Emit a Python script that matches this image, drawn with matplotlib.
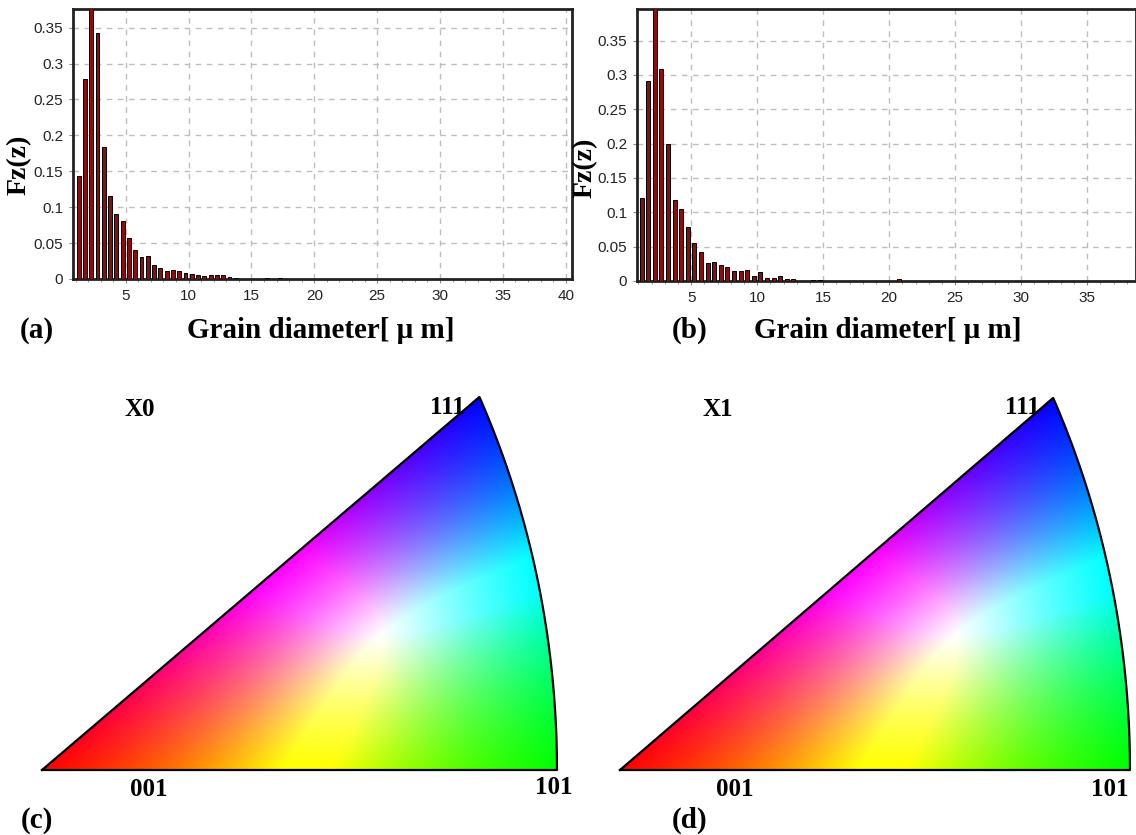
import numpy as np
import matplotlib
matplotlib.use('Agg')
import matplotlib.pyplot as plt
from matplotlib.ticker import MultipleLocator, FormatStrFormatter

W, H = 1136, 835

# grain size distributions, 0.5 um bins (bin centres in um)
x0_centres = [1.25, 1.75, 2.25, 2.75, 3.25, 3.75, 4.25, 4.75, 5.25, 5.75,
              6.25, 6.75, 7.25, 7.75, 8.25, 8.75, 9.25, 9.75, 10.25, 10.75,
              11.25, 11.75, 12.25, 12.75, 13.25, 13.75, 16.25, 17.25]
x0_freq = [0.143, 0.279, 0.390, 0.343, 0.184, 0.115, 0.091, 0.081, 0.057, 0.040,
           0.030, 0.032, 0.019, 0.015, 0.011, 0.013, 0.011, 0.009, 0.0075, 0.006,
           0.004, 0.005, 0.0055, 0.0055, 0.003, 0.0015, 0.002, 0.002]

x1_centres = [1.25, 1.75, 2.25, 2.75, 3.25, 3.75, 4.25, 4.75, 5.25, 5.75,
              6.25, 6.75, 7.25, 7.75, 8.25, 8.75, 9.25, 9.75, 10.25, 10.75,
              11.25, 11.75, 12.25, 12.75, 14.25, 14.75, 20.75]
x1_freq = [0.121, 0.291, 0.410, 0.309, 0.200, 0.118, 0.105, 0.078, 0.055, 0.042,
           0.026, 0.028, 0.024, 0.020, 0.014, 0.014, 0.016, 0.007, 0.013, 0.005,
           0.005, 0.007, 0.003, 0.003, 0.002, 0.002, 0.003]

SERIF = 'Liberation Serif'
SANS = 'Liberation Sans'


def px(x, y):
    return x / W, 1 - y / H


def hist_panel(fig, rect, centres, freq, xlim, ylim, xmax_tick):
    ax = fig.add_axes(rect)
    ax.bar(centres, freq, width=0.3, color='#8b0d0d', edgecolor='black',
           linewidth=0.7, zorder=3)
    ax.set_xlim(*xlim)
    ax.set_ylim(*ylim)
    ax.set_xticks(np.arange(5, xmax_tick + 1, 5))
    ax.xaxis.set_minor_locator(MultipleLocator(1))
    ax.yaxis.set_major_locator(MultipleLocator(0.05))
    ax.yaxis.set_major_formatter(FormatStrFormatter('%g'))
    ax.grid(True, color='#bdbdbd', linestyle=(0, (4, 4)), linewidth=1.0, zorder=0)
    ax.tick_params(axis='both', direction='out', length=3, width=0.8,
                   color='#888888', labelsize=11, labelcolor='#222222', pad=4)
    ax.tick_params(axis='x', which='minor', length=2, color='#888888')
    for lab in ax.get_xticklabels() + ax.get_yticklabels():
        lab.set_fontfamily(SANS)
    for sp in ax.spines.values():
        sp.set_linewidth(2.0)
        sp.set_color('#222222')
    return ax


# equal-area projection of the cubic standard triangle
X101 = np.sqrt(0.5) * np.sqrt(2 / (1 + np.sqrt(0.5)))
Y111 = np.sqrt(1 / 3) * np.sqrt(2 / (1 + np.sqrt(1 / 3)))
GREEN_W, BLUE_W = 1.4, 1.6
P_NORM = 4


def ipf_image(nx=600, ny=520):
    gx, gy = np.meshgrid(np.linspace(0, X101, nx), np.linspace(0, Y111, ny))
    r2 = gx ** 2 + gy ** 2
    k = np.sqrt(np.clip(1 - r2 / 4, 0, None))
    x, y, z = gx * k, gy * k, 1 - r2 / 2
    inside = (z >= x) & (x >= y) & (y >= 0)
    rgb = np.stack([z - x, GREEN_W * (x - y), BLUE_W * y], axis=-1)
    rgb = np.clip(rgb, 0, None)
    # soft normalisation keeps the key free of ridges; white where r = g = b
    n = (rgb ** P_NORM).sum(axis=-1, keepdims=True) ** (1 / P_NORM)
    n[n == 0] = 1
    rgb = np.clip(rgb / n * 3 ** (1 / P_NORM), 0, 1)
    return np.dstack([rgb, inside.astype(float)])


def ipf_outline():
    u = np.linspace(0, 1, 200)
    v = np.stack([np.ones_like(u), u, np.ones_like(u)]) / np.sqrt(2 + u ** 2)
    f = np.sqrt(2 / (1 + v[2]))
    xs = np.concatenate([[0], v[0] * f, [0]])
    ys = np.concatenate([[0], v[1] * f, [0]])
    return xs, ys


def ipf_panel(fig, p001, p101, top_y):
    pad = 0.012
    sx = (p101[0] - p001[0]) / X101
    sy = (p001[1] - top_y) / Y111
    left = p001[0] - pad * sx
    right = p101[0] + pad * sx
    bottom = p001[1] + pad * sy
    top = top_y - pad * sy
    ax = fig.add_axes([left / W, 1 - bottom / H, (right - left) / W, (bottom - top) / H])
    ax.imshow(ipf_image(), origin='lower', extent=(0, X101, 0, Y111),
              aspect='auto', interpolation='bilinear')
    xs, ys = ipf_outline()
    ax.plot(xs, ys, color='black', linewidth=1.6, solid_joinstyle='round')
    ax.set_xlim(-pad, X101 + pad)
    ax.set_ylim(-pad, Y111 + pad)
    ax.axis('off')
    return ax


fig = plt.figure(figsize=(W / 100, H / 100), dpi=100)

hist_panel(fig, [73 / W, (H - 279) / H, (572 - 73) / W, (279 - 9) / H],
           x0_centres, x0_freq, (0.8, 40.5), (0, 0.376), 40)
hist_panel(fig, [637 / W, (H - 281) / H, (1136 - 637) / W, (281 - 9) / H],
           x1_centres, x1_freq, (0.9, 38.7), (0, 0.396), 35)

ipf_panel(fig, (42, 770), (557, 770), 397)
ipf_panel(fig, (620, 770), (1130, 770), 398)

bold = dict(family=SERIF, fontweight='bold', ha='center', va='center')
fig.text(*px(19, 165), 'Fz(z)', rotation=90, fontsize=20, **bold)
fig.text(*px(585, 168), 'Fz(z)', rotation=90, fontsize=20, **bold)
fig.text(*px(321, 330), 'Grain diameter[ \u03bc m]', fontsize=21, **bold)
fig.text(*px(888, 330), 'Grain diameter[ \u03bc m]', fontsize=21, **bold)
fig.text(*px(37, 330), '(a)', fontsize=21, **bold)
fig.text(*px(690, 330), '(b)', fontsize=21, **bold)

fig.text(*px(140, 410), 'X0', fontsize=18, **bold)
fig.text(*px(447, 407), '111', fontsize=18, **bold)
fig.text(*px(149, 790), '001', fontsize=18, **bold)
fig.text(*px(554, 787), '101', fontsize=18, **bold)
fig.text(*px(37, 820), '(c)', fontsize=21, **bold)

fig.text(*px(718, 410), 'X1', fontsize=18, **bold)
fig.text(*px(1022, 407), '111', fontsize=18, **bold)
fig.text(*px(735, 790), '001', fontsize=18, **bold)
fig.text(*px(1110, 790), '101', fontsize=18, **bold)
fig.text(*px(690, 820), '(d)', fontsize=21, **bold)

fig.savefig('out.png', dpi=100)
